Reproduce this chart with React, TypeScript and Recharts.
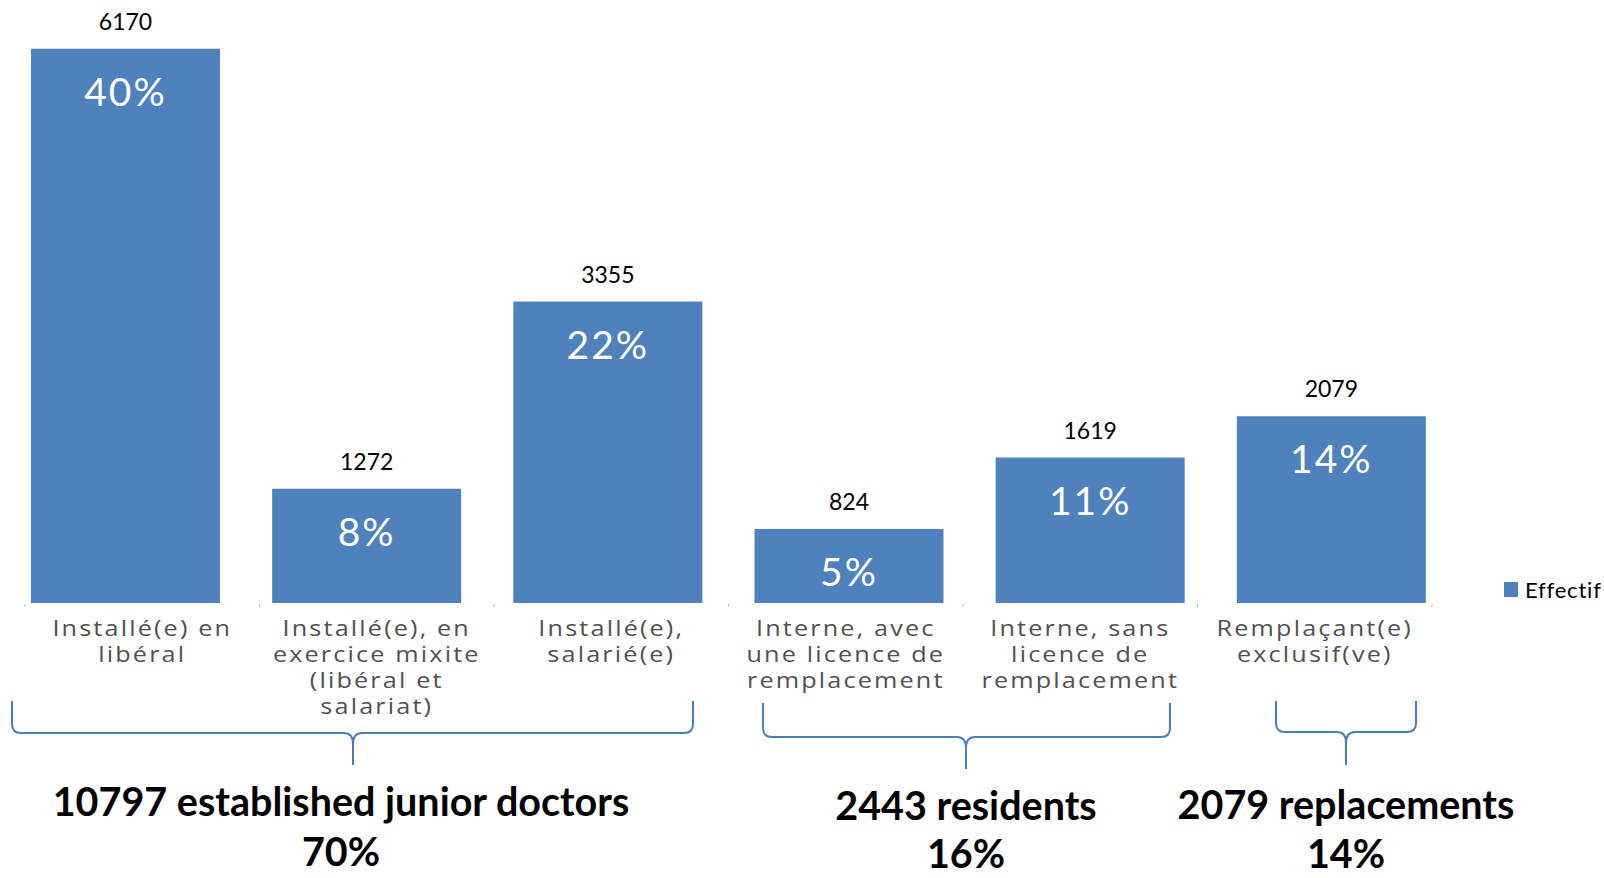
import { BarChart, Bar, XAxis, YAxis, LabelList, Customized } from "recharts";

// values
const categories = [
  "Installé(e) en libéral",
  "Installé(e), en exercice mixite (libéral et salariat)",
  "Installé(e), salarié(e)",
  "Interne, avec une licence de remplacement",
  "Interne, sans licence de remplacement",
  "Remplaçant(e) exclusif(ve)",
];
const tickLines = [
  ["Installé(e) en", "libéral"],
  ["Installé(e), en", "exercice mixite", "(libéral et", "salariat)"],
  ["Installé(e),", "salarié(e)"],
  ["Interne, avec", "une licence de", "remplacement"],
  ["Interne, sans", "licence de", "remplacement"],
  ["Remplaçant(e)", "exclusif(ve)"],
];
const effectif = [6170, 1272, 3355, 824, 1619, 2079];
const shares = ["40%", "8%", "22%", "5%", "11%", "14%"];
const groupNames = ["10797 established junior doctors", "2443 residents", "2079 replacements"];
const groupShares = ["70%", "16%", "14%"];
const seriesName = "Effectif";

const W = 1604;
const H = 878;
const BLUE = "#4F81BD";
const BRACE = "#4A7EBB";
const PLOT_BOTTOM = 603;

// brace / group-caption layout (pixels)
const braces = [
  { x1: 12, x2: 693, cx: 353, tx: 341, top: 701, mid: 733, tip: 765, base: 816, gap: 50 },
  { x1: 763, x2: 1170, cx: 966, tx: 966, top: 703, mid: 737, tip: 769, base: 820, gap: 48 },
  { x1: 1276, x2: 1416, cx: 1346, tx: 1346, top: 701, mid: 732, tip: 765, base: 819, gap: 49 },
];

const HALF_BAND = 117.25;

function CategoryTick(props: any) {
  const { x, payload, index } = props;
  const i = categories.indexOf(payload.value);
  const lines = tickLines[i] || [payload.value];
  const y = PLOT_BOTTOM;
  return (
    <g>
      <line x1={x - HALF_BAND} x2={x - HALF_BAND} y1={y + 1} y2={y + 4} stroke="#bfbfbf" />
      {index === categories.length - 1 ? (
        <line x1={x + HALF_BAND} x2={x + HALF_BAND} y1={y + 1} y2={y + 4} stroke="#bfbfbf" />
      ) : null}
      <g transform={`translate(${x},0) scale(1.2,1)`}>
        <text
          x={0}
          y={y + 33}
          textAnchor="middle"
          fill="#505050"
          fontFamily="Open Sans"
          fontSize={21}
          letterSpacing={1.8}
        >
          {lines.map((l, k) => (
            <tspan key={k} x={0} dy={k === 0 ? 0 : 26}>
              {l}
            </tspan>
          ))}
        </text>
      </g>
    </g>
  );
}

function ShareLabel(props: any) {
  const { x, y, width, value } = props;
  return (
    <text
      x={Number(x) + Number(width) / 2}
      y={Number(y) + 57}
      textAnchor="middle"
      fill="#fff"
      fontFamily="Lato"
      fontSize={39}
      letterSpacing={2}
    >
      {value}
    </text>
  );
}

function Annotations() {
  return (
    <g>
      {braces.map((b, i) => {
        const r = 9;
        const d =
          `M${b.x1},${b.top} L${b.x1},${b.mid - r} Q${b.x1},${b.mid} ${b.x1 + r},${b.mid} ` +
          `L${b.cx - r},${b.mid} Q${b.cx},${b.mid} ${b.cx},${b.mid + r + 2} L${b.cx},${b.tip} ` +
          `M${b.cx},${b.mid + r + 2} Q${b.cx},${b.mid} ${b.cx + r},${b.mid} ` +
          `L${b.x2 - r},${b.mid} Q${b.x2},${b.mid} ${b.x2},${b.mid - r} L${b.x2},${b.top}`;
        return (
          <g key={i}>
            <path d={d} fill="none" stroke={BRACE} strokeWidth={2} />
            <text
              x={b.tx}
              y={b.base}
              textAnchor="middle"
              fontFamily="Lato"
              fontWeight="bold"
              fontSize={39.5}
              fill="#000"
            >
              <tspan x={b.tx}>{groupNames[i]}</tspan>
              <tspan x={b.tx} dy={b.gap}>
                {groupShares[i]}
              </tspan>
            </text>
          </g>
        );
      })}
      <rect x={1504} y={582} width={14} height={15} fill={BLUE} />
      <text x={1525} y={598} fontFamily="Lato" fontSize={22} fill="#000" letterSpacing={0.8}>
        {seriesName}
      </text>
    </g>
  );
}

export default function App() {
  const data = categories.map((c, i) => ({ cat: c, value: effectif[i], share: shares[i] }));
  return (
    <div style={{ position: "absolute", left: 0, top: 0, width: W, height: H, background: "#fff" }}>
      <BarChart width={W} height={H} data={data} margin={{ top: 19, right: 152, bottom: 165, left: 5 }}>
        <XAxis xAxisId="bars" dataKey="cat" hide />
        <XAxis
          xAxisId="labels"
          dataKey="cat"
          axisLine={false}
          tickLine={false}
          tickSize={0}
          tickMargin={0}
          height={110}
          interval={0}
          padding={{ left: 20, right: 20 }}
          tick={<CategoryTick />}
        />
        <YAxis hide domain={[0, 6500]} />
        <Bar xAxisId="bars" dataKey="value" name={seriesName} fill={BLUE} barSize={189} isAnimationActive={false}>
          <LabelList dataKey="value" position="top" offset={19} fill="#000" fontSize={23} fontFamily="Lato" />
          <LabelList dataKey="share" content={ShareLabel} />
        </Bar>
        <Customized component={Annotations} />
      </BarChart>
    </div>
  );
}
